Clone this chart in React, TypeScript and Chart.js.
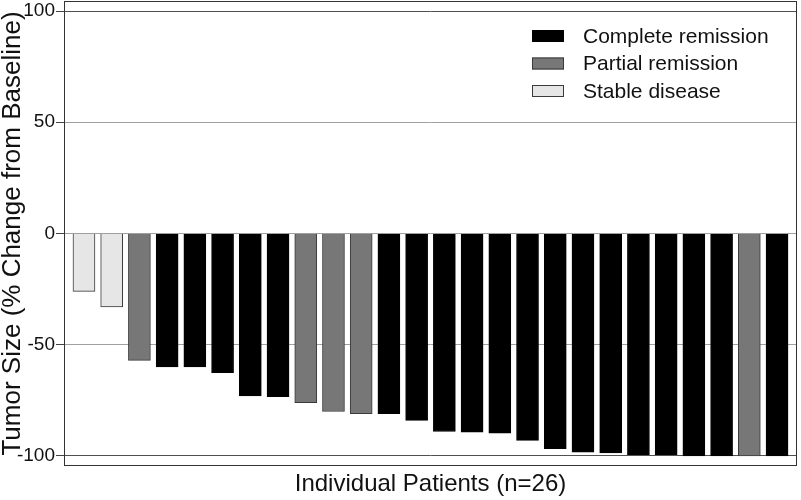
import React, { useEffect, useRef } from 'react';
import { Chart, registerables } from 'chart.js';

Chart.register(...registerables);

const FONT = "'Liberation Sans', Arial, Helvetica, sans-serif";

// ---- Data ----
const patientIds = [1, 2, 3, 4, 5, 6, 7, 8, 9, 10, 11, 12, 13, 14, 15, 16, 17, 18, 19, 20, 21, 22, 23, 24, 25, 26];
const tumorChange = [-26, -33, -57, -60, -60, -62.5, -73, -73.3, -76, -80, -81, -81, -84, -89, -89.3, -89.7, -93, -96.7, -98.3, -98.6, -99.4, -99.4, -100, -100, -100, -100];
const responseType = ['SD', 'SD', 'PR', 'CR', 'CR', 'CR', 'CR', 'CR', 'PR', 'PR', 'PR', 'CR', 'CR', 'CR', 'CR', 'CR', 'CR', 'CR', 'CR', 'CR', 'CR', 'CR', 'CR', 'CR', 'PR', 'CR'];
const groupCodes = ['CR', 'PR', 'SD'];
const groupLabels = ['Complete remission', 'Partial remission', 'Stable disease'];
const groupFill = ['#000000', '#777777', '#e6e6e6'];
const groupBorder = ['#000000', '#3a3a3a', '#3a3a3a'];
const yTickValues = [-100, -50, 0, 50, 100];
const yTitle = 'Tumor Size (% Change from Baseline)';
const xTitle = 'Individual Patients (n=26)';

const frameLegendPlugin = {
  id: 'frameLegend',
  afterDraw(chart: any) {
    const { ctx, chartArea } = chart;
    const { left, top, right, bottom } = chartArea;
    ctx.save();
    ctx.strokeStyle = '#333333';
    ctx.lineWidth = 1;
    ctx.strokeRect(left + 0.5, top + 0.5, right - left - 1, bottom - top - 1);

    // legend
    const boxX = 532;
    const firstY = 36;
    const gap = 27.5;
    const textX = 583;
    ctx.font = `21px ${FONT}`;
    ctx.textBaseline = 'middle';
    ctx.textAlign = 'left';
    chart.data.datasets.forEach((ds: any, i: number) => {
      const cy = firstY + i * gap;
      ctx.fillStyle = ds.backgroundColor;
      ctx.fillRect(boxX, cy - 6, 32, 12);
      ctx.strokeStyle = ds.borderColor;
      ctx.lineWidth = 1;
      ctx.strokeRect(boxX + 0.5, cy - 5.5, 31, 11);
      ctx.fillStyle = '#111111';
      ctx.fillText(ds.label, textX, cy + 1);
    });
    ctx.restore();
  },
};

export default function App() {
  const canvasRef = useRef<HTMLCanvasElement | null>(null);

  useEffect(() => {
    document.body.style.margin = '0';
    const canvas = canvasRef.current;
    if (!canvas) return;
    Chart.defaults.font.family = FONT;

    const datasets = groupCodes.map((code, gi) => ({
      label: groupLabels[gi],
      data: patientIds
        .map((id, i) => ({ x: id, y: tumorChange[i], r: responseType[i] }))
        .filter((p) => p.r === code)
        .map((p) => ({ x: p.x, y: p.y })),
      backgroundColor: groupFill[gi],
      borderColor: groupBorder[gi],
      borderWidth: 1,
      grouped: false,
      barThickness: 22,
    }));

    const chart = new Chart(canvas, {
      type: 'bar',
      data: { datasets } as any,
      options: {
        responsive: false,
        animation: false,
        layout: { padding: { top: 1, right: 4, left: 0, bottom: 0 } },
        plugins: {
          legend: { display: false },
          tooltip: { enabled: false },
        },
        scales: {
          x: {
            type: 'linear',
            min: 0.28,
            max: 26.72,
            offset: false,
            grid: { display: false },
            border: { display: false },
            ticks: { display: false },
            title: {
              display: true,
              text: xTitle,
              color: '#111111',
              font: { family: FONT, size: 24, lineHeight: 1 },
              padding: { top: 0, bottom: 4 },
            },
            afterFit(scale: any) {
              scale.height = 34;
              scale.paddingLeft = 0;
              scale.paddingRight = 0;
            },
          },
          y: {
            type: 'linear',
            min: -104.5,
            max: 104.5,
            afterBuildTicks(scale: any) {
              scale.ticks = yTickValues.map((v) => ({ value: v }));
            },
            ticks: {
              color: '#111111',
              font: { family: FONT, size: 19 },
              padding: 1,
            },
            grid: {
              color: (c: any) => (Math.abs(c.tick?.value) === 100 ? '#505050' : '#a0a0a0'),
              tickColor: '#444444',
              lineWidth: 1,
              tickLength: 8,
            },
            border: { display: false },
            title: {
              display: true,
              text: yTitle,
              color: '#111111',
              font: { family: FONT, size: 26, lineHeight: 1 },
              padding: { top: 0, bottom: 0 },
            },
            afterFit(scale: any) {
              scale.width = 64;
              scale.paddingTop = 0;
              scale.paddingBottom = 0;
            },
          },
        },
      } as any,
      plugins: [frameLegendPlugin],
    });

    return () => {
      chart.destroy();
    };
  }, []);

  return (
    <div style={{ width: 801, height: 500 }}>
      <canvas ref={canvasRef} width={801} height={500} />
    </div>
  );
}
